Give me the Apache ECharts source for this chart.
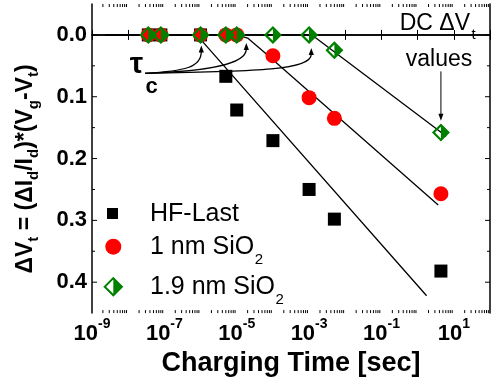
<!DOCTYPE html>
<html><head><meta charset="utf-8">
<script src="https://cdn.jsdelivr.net/npm/echarts@6/dist/echarts.min.js"></script>
<style>html,body{margin:0;padding:0;background:#fff}#c{width:493px;height:382px}</style>
</head><body><div id="c"></div>
<script>
// ---- data ----
const timeHF   = [3.6e-8, 8e-8, 1e-6, 5e-6, 1e-5, 1e-4, 1e-3, 5e-3, 4.4];
const dvtHF    = [0, 0, 0, 0.067, 0.1215, 0.171, 0.25, 0.298, 0.382];
const time1nm  = [3.6e-8, 8e-8, 1e-6, 5e-6, 1e-5, 1e-4, 1e-3, 5e-3, 4.4];
const dvt1nm   = [0, 0, 0, 0, 0, 0.0337, 0.1015, 0.135, 0.257];
const time19nm = [3.6e-8, 8e-8, 1e-6, 5e-6, 1e-5, 1e-4, 1e-3, 5e-3, 4.4];
const dvt19nm  = [0, 0, 0, 0, 0, 0, 0, 0.025, 0.158];
const seriesNames = ['HF-Last', '1 nm SiO2', '1.9 nm SiO2'];
// fitted lines
const fitHFx = [2.3e-9, 7.8e-7, 1.77];
const fitHFy = [0, 0, 0.422];
const fit1x  = [2.3e-9, 1e-5, 2e-5, 3.5e-5, 6e-5, 3.7];
const fit1y  = [0, 0, 0.005, 0.017, 0.029, 0.275];
const fit19x = [2.3e-9, 1.2e-3, 6.2];
const fit19y = [0, 0, 0.164];
// annotation anchors (data coords)
const tauTips = [[1.05e-6, 0.017], [1.84e-5, 0.013], [1.15e-3, 0.021]];
const dcArrow = [4.4, 0.059, 0.139];
// ticks
const xLabelExps = [-9, -7, -5, -3, -1, 1];
const yMajor = [0, 0.1, 0.2, 0.3, 0.4];
const yMinor = [0.05, 0.15, 0.25, 0.35];

const FONT = '"Liberation Sans", Arial, Helvetica, sans-serif';
const GREEN = '#008000';
const diamondPath = 'path://M0,-10 L10,0 L0,10 L-10,0 Z M0,-6.6 L-6.6,0 L0,6.6 Z';

const zip = (a, b) => a.map((v, i) => [v, b[i]]);

const xMinor = [];
for (let e = -9; e < 2; e++) for (let k = 2; k <= 9; k++) xMinor.push(k * Math.pow(10, e));

const chart = echarts.init(document.getElementById('c'), null, {renderer: 'canvas'});

const xAxisBase = {
  type: 'log', logBase: 10, min: 1e-9, max: 1e2, interval: 1,
  axisLine: {lineStyle: {color: '#000', width: 1.5}},
  axisTick: {inside: true, length: 5, lineStyle: {color: '#000', width: 1}},
  minorTick: {show: false}, splitLine: {show: false}
};
const yAxisBase = {
  type: 'value', inverse: true, min: -0.05, max: 0.45, interval: 0.05,
  axisLine: {show: true, lineStyle: {color: '#000', width: 1.5}},
  axisTick: {show: false}, splitLine: {show: false}
};

const option = {
  animation: false,
  backgroundColor: '#fff',
  grid: {left: 92, right: 2, top: 4, bottom: 67},
  xAxis: [
    Object.assign({}, xAxisBase, {
      position: 'bottom',
      axisLabel: {
        margin: 4, color: '#000',
        formatter: v => {
          const e = Math.round(Math.log10(v));
          return xLabelExps.includes(e) ? '{b|10}{s|' + e + '}' : '';
        },
        rich: {
          b: {fontSize: 22, fontWeight: 'bold', fontFamily: FONT, color: '#000', lineHeight: 22, padding: [6, 0, 0, 0], verticalAlign: 'top'},
          s: {fontSize: 14, fontWeight: 'bold', fontFamily: FONT, color: '#000', lineHeight: 14, verticalAlign: 'top'}
        }
      },
      name: 'Charging Time [sec]', nameLocation: 'middle', nameGap: 28,
      nameTextStyle: {fontSize: 27, fontWeight: 'bold', fontFamily: FONT, color: '#000'}
    }),
    Object.assign({}, xAxisBase, {position: 'top', axisLabel: {show: false}})
  ],
  yAxis: [
    Object.assign({}, yAxisBase, {
      position: 'left',
      axisLabel: {
        margin: 5, color: '#000', fontSize: 22, fontWeight: 'bold', fontFamily: FONT,
        formatter: v => {
          const r = Math.round(v * 10);
          return (Math.abs(v * 10 - r) < 1e-6 && r >= 0 && r <= 4) ? (r / 10).toFixed(1) : '';
        }
      }
    }),
    Object.assign({}, yAxisBase, {position: 'right', axisLabel: {show: false}})
  ],
  series: [
    {type: 'line', name: 'fitHF', data: zip(fitHFx, fitHFy), symbol: 'none', silent: true,
     lineStyle: {color: '#000', width: 1.3}, z: 1},
    {type: 'line', name: 'fit1', data: zip(fit1x, fit1y), symbol: 'none', silent: true,
     lineStyle: {color: '#000', width: 1.3}, z: 1},
    {type: 'line', name: 'fit19', data: zip(fit19x, fit19y), symbol: 'none', silent: true,
     lineStyle: {color: '#000', width: 1.3}, z: 1},
    {type: 'scatter', name: seriesNames[0], data: zip(timeHF, dvtHF), symbol: 'rect', symbolSize: 13,
     itemStyle: {color: '#000', opacity: 1}, z: 3},
    {type: 'scatter', name: seriesNames[1], data: zip(time1nm, dvt1nm), symbol: 'circle', symbolSize: 15,
     itemStyle: {color: '#ff0000', opacity: 1}, z: 4},
    {type: 'scatter', name: seriesNames[2], data: zip(time19nm, dvt19nm), symbol: diamondPath, symbolSize: 18,
     itemStyle: {color: GREEN, opacity: 1}, z: 5},
    {type: 'custom', name: 'xminor', silent: true, data: xMinor.map(v => [v, 0]), clip: false, z: 6,
     renderItem: (params, api) => {
       const x = api.coord([api.value(0), 0])[0];
       const cs = params.coordSys;
       const b = cs.y + cs.height;
       return {type: 'group', children: [
         {type: 'line', shape: {x1: x, y1: b, x2: x, y2: b - 3}, style: {stroke: '#000', lineWidth: 1}},
         {type: 'line', shape: {x1: x, y1: cs.y, x2: x, y2: cs.y + 3}, style: {stroke: '#000', lineWidth: 1}}
       ]};
     }},
    {type: 'custom', name: 'yticks', silent: true, clip: false, z: 6,
     data: yMajor.map(v => [1, v, 5]).concat(yMinor.map(v => [1, v, 3])),
     renderItem: (params, api) => {
       const y = api.coord([1, api.value(1)])[1];
       const len = api.value(2);
       const cs = params.coordSys;
       const r = cs.x + cs.width;
       return {type: 'group', children: [
         {type: 'line', shape: {x1: cs.x, y1: y, x2: cs.x + len, y2: y}, style: {stroke: '#000', lineWidth: 1}},
         {type: 'line', shape: {x1: r, y1: y, x2: r - len, y2: y}, style: {stroke: '#000', lineWidth: 1}}
       ]};
     }}
  ]
};
chart.setOption(option);

// ---- annotations, legend, y title ----
const ctx = document.createElement('canvas').getContext('2d');
const textW = (t, f) => { ctx.font = f; return ctx.measureText(t).width; };
const P = (x, y) => chart.convertToPixel({xAxisIndex: 0, yAxisIndex: 0}, [x, y]);
const g = [];
const txt = (x, y, text, font, align, extra) => Object.assign({type: 'text', silent: true, x: x, y: y,
  style: {text: text, font: font, fill: '#000', align: align || 'left', verticalAlign: 'middle'}}, extra || {});

// y-axis title (rotated)
g.push({type: 'text', silent: true, x: 26, y: 169, rotation: Math.PI / 2,
  style: {
    text: '{m|ΔV}{s|t}{m| = (ΔI}{s|d}{m|/I}{s|d}{m|)*(V}{s|g}{m|-V}{s|t}{m|)}',
    align: 'center', verticalAlign: 'middle',
    rich: {
      m: {font: 'bold 23px ' + FONT, fill: '#000', lineHeight: 23, verticalAlign: 'top'},
      s: {font: 'bold 15px ' + FONT, fill: '#000', lineHeight: 15, padding: [12, 0, 0, 0], verticalAlign: 'top'}
    }
  }});

// tau arrows
const origin = [145, 73.3];
const cp1x = [185, 205, 260];
tauTips.forEach((t, i) => {
  const [tx, ty] = P(t[0], t[1]);
  g.push({type: 'bezierCurve', silent: true,
    shape: {x1: origin[0], y1: origin[1], x2: tx, y2: ty + 6, cpx1: cp1x[i], cpy1: origin[1] - 2.3 + i * 0.3, cpx2: tx, cpy2: ty + 22},
    style: {stroke: '#000', lineWidth: 1.3, fill: null}});
  g.push({type: 'polygon', silent: true, shape: {points: [[tx, ty], [tx - 2.6, ty + 7], [tx + 2.6, ty + 7]]}, style: {fill: '#000'}});
});
g.push(txt(136.5, 64.5, 'τ', 'bold 30px ' + FONT, 'center'));
g.push(txt(151.5, 87.3, 'c', 'bold 22px ' + FONT, 'center'));

// DC arrow
const a0 = P(dcArrow[0], dcArrow[1]);
const a1 = P(dcArrow[0], dcArrow[2]);
g.push({type: 'line', silent: true, shape: {x1: a0[0], y1: a0[1], x2: a1[0], y2: a1[1] - 6}, style: {stroke: '#000', lineWidth: 1}});
g.push({type: 'polygon', silent: true, shape: {points: [[a1[0], a1[1]], [a1[0] - 2.5, a1[1] - 7], [a1[0] + 2.5, a1[1] - 7]]}, style: {fill: '#000'}});
g.push(txt(470, 23.7, 'DC ΔV', '23px ' + FONT, 'right'));
g.push(txt(471.5, 34.7, 't', '15px ' + FONT, 'left'));
g.push(txt(439, 60, 'values', '23px ' + FONT, 'center'));

// legend
const LF = '25px ' + FONT;
g.push({type: 'rect', silent: true, shape: {x: 107, y: 208, width: 11, height: 11}, style: {fill: '#000'}});
g.push(txt(150, 214, seriesNames[0], LF));
g.push({type: 'circle', silent: true, shape: {cx: 113.3, cy: 246.7, r: 8}, style: {fill: '#ff0000'}});
g.push(txt(150, 247, '1 nm SiO', LF));
g.push(txt(150 + textW('1 nm SiO', LF) + 0.5, 259.5, '2', '15px ' + FONT));
const dc = [113.3, 286.7], dr = 8.6;
g.push({type: 'polygon', silent: true, shape: {points: [[dc[0], dc[1] - dr], [dc[0] + dr, dc[1]], [dc[0], dc[1] + dr], [dc[0] - dr, dc[1]]]},
  style: {fill: '#fff', stroke: GREEN, lineWidth: 2}});
g.push({type: 'polygon', silent: true, shape: {points: [[dc[0], dc[1] - dr], [dc[0] + dr, dc[1]], [dc[0], dc[1] + dr]]},
  style: {fill: GREEN}});
g.push(txt(150, 287, '1.9 nm SiO', LF));
g.push(txt(150 + textW('1.9 nm SiO', LF) + 0.5, 299.5, '2', '15px ' + FONT));

chart.setOption({graphic: g});
</script>
</body></html>
